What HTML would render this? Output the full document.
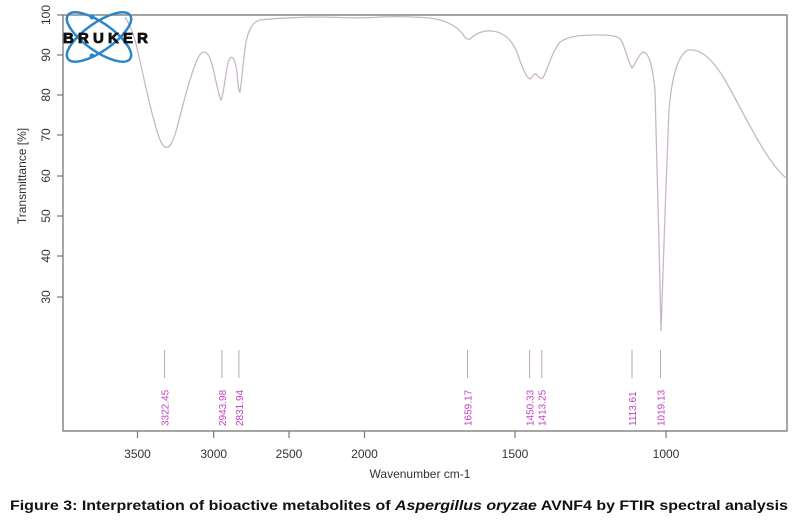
<!DOCTYPE html>
<html><head><meta charset="utf-8"><style>
body{margin:0;background:#fff;width:797px;height:527px;overflow:hidden}
</style></head><body>
<svg width="797" height="527" viewBox="0 0 797 527" xmlns="http://www.w3.org/2000/svg" font-family="Liberation Sans, sans-serif">
<rect x="63" y="15" width="724" height="416" fill="none" stroke="#777" stroke-width="1.3"/>
<g stroke="#777" stroke-width="1.2">
<line x1="57" y1="15" x2="63" y2="15"/><line x1="57" y1="55" x2="63" y2="55"/><line x1="57" y1="95" x2="63" y2="95"/><line x1="57" y1="135" x2="63" y2="135"/><line x1="57" y1="176" x2="63" y2="176"/><line x1="57" y1="216" x2="63" y2="216"/><line x1="57" y1="256" x2="63" y2="256"/><line x1="57" y1="297" x2="63" y2="297"/>
<line x1="137.5" y1="431" x2="137.5" y2="438"/><line x1="213.7" y1="431" x2="213.7" y2="438"/><line x1="289" y1="431" x2="289" y2="438"/><line x1="364.5" y1="431" x2="364.5" y2="438"/><line x1="515" y1="431" x2="515" y2="438"/><line x1="666" y1="431" x2="666" y2="438"/>
</g>
<g font-size="12" fill="#333" text-anchor="middle">
<text transform="translate(46,15) rotate(-90)" dy="4">100</text>
<text transform="translate(46,55) rotate(-90)" dy="4">90</text>
<text transform="translate(46,95) rotate(-90)" dy="4">80</text>
<text transform="translate(46,135) rotate(-90)" dy="4">70</text>
<text transform="translate(46,176) rotate(-90)" dy="4">60</text>
<text transform="translate(46,216) rotate(-90)" dy="4">50</text>
<text transform="translate(46,256) rotate(-90)" dy="4">40</text>
<text transform="translate(46,297) rotate(-90)" dy="4">30</text>
<text transform="translate(22,176) rotate(-90)" dy="4">Transmittance [%]</text>
<text x="137.5" y="458">3500</text><text x="213.7" y="458">3000</text><text x="289" y="458">2500</text><text x="364.5" y="458">2000</text><text x="515" y="458">1500</text><text x="666" y="458">1000</text>
<text x="420" y="478">Wavenumber cm-1</text>
</g>
<path fill="none" stroke="#c9b7c9" stroke-width="1.3" d="M125,17 C130,25 133,33 135,40 C140,60 145,85 150,105 C155,125 160,145 165,147 C170,149 173,142 177,128 C183,105 190,75 198,58 C202,50 206,50 210,58 C214,68 218,95 221,100 C224,95 226,66 229,60 C232,54 235,58 237,72 C238,85 239,93 240,92 C242,80 243,60 246,42 C249,28 253,22 260,20 C275,18 290,18 310,17 C340,17 360,19 380,17 C400,16 415,17 430,18 C445,20 455,25 462,33 C465,38 467,40 470,39 C476,33 484,30 492,31 C502,32 512,38 518,55 C523,70 527,78 530,79 C532,78 534,73 536,74 C538,76 540,80 543,78 C548,68 552,52 560,42 C570,35 585,35 600,35 C612,35 618,36 621,40 C625,46 627,60 632,68 C635,65 638,55 643,52 C648,52 652,62 655,90 C657,140 659,250 661,331 C663,270 666,180 669,110 C672,75 678,55 688,50 C700,48 712,58 725,80 C745,115 765,160 786,178"/>
<g stroke="#b8a8b8" stroke-width="1">
<line x1="164.6" y1="350" x2="164.6" y2="378"/><line x1="221.9" y1="350" x2="221.9" y2="378"/><line x1="238.9" y1="350" x2="238.9" y2="378"/><line x1="467.5" y1="350" x2="467.5" y2="378"/><line x1="529.6" y1="350" x2="529.6" y2="378"/><line x1="541.8" y1="350" x2="541.8" y2="378"/><line x1="632" y1="350" x2="632" y2="378"/><line x1="660.5" y1="350" x2="660.5" y2="378"/>
</g>
<g font-size="10" fill="#c040c0">
<text transform="translate(168.5,426) rotate(-90)">3322.45</text>
<text transform="translate(225.8,426) rotate(-90)">2943.98</text>
<text transform="translate(242.8,426) rotate(-90)">2831.94</text>
<text transform="translate(471.4,426) rotate(-90)">1659.17</text>
<text transform="translate(533.5,426) rotate(-90)">1450.33</text>
<text transform="translate(545.7,426) rotate(-90)">1413.25</text>
<text transform="translate(635.9,426) rotate(-90)">1113.61</text>
<text transform="translate(664.4,426) rotate(-90)">1019.13</text>
</g>
<g fill="none" stroke="#2a86c8" stroke-width="2.5">
<ellipse cx="99" cy="37" rx="38" ry="14" transform="rotate(35 99 37)"/>
<ellipse cx="99" cy="37" rx="38" ry="14" transform="rotate(-35 99 37)"/>
</g>
<circle cx="92" cy="17" r="2.5" fill="#2a86c8"/><circle cx="92" cy="56" r="2.5" fill="#2a86c8"/>
<text x="63" y="43" font-size="15" font-weight="bold" fill="#111" stroke="#111" stroke-width="0.8" textLength="85" lengthAdjust="spacing">BRUKER</text>
<text x="10" y="510" font-size="14" font-weight="bold" fill="#111" textLength="778" lengthAdjust="spacingAndGlyphs">Figure 3: Interpretation of bioactive metabolites of <tspan font-style="italic">Aspergillus oryzae</tspan> AVNF4 by FTIR spectral analysis</text>
</svg>
</body></html>
